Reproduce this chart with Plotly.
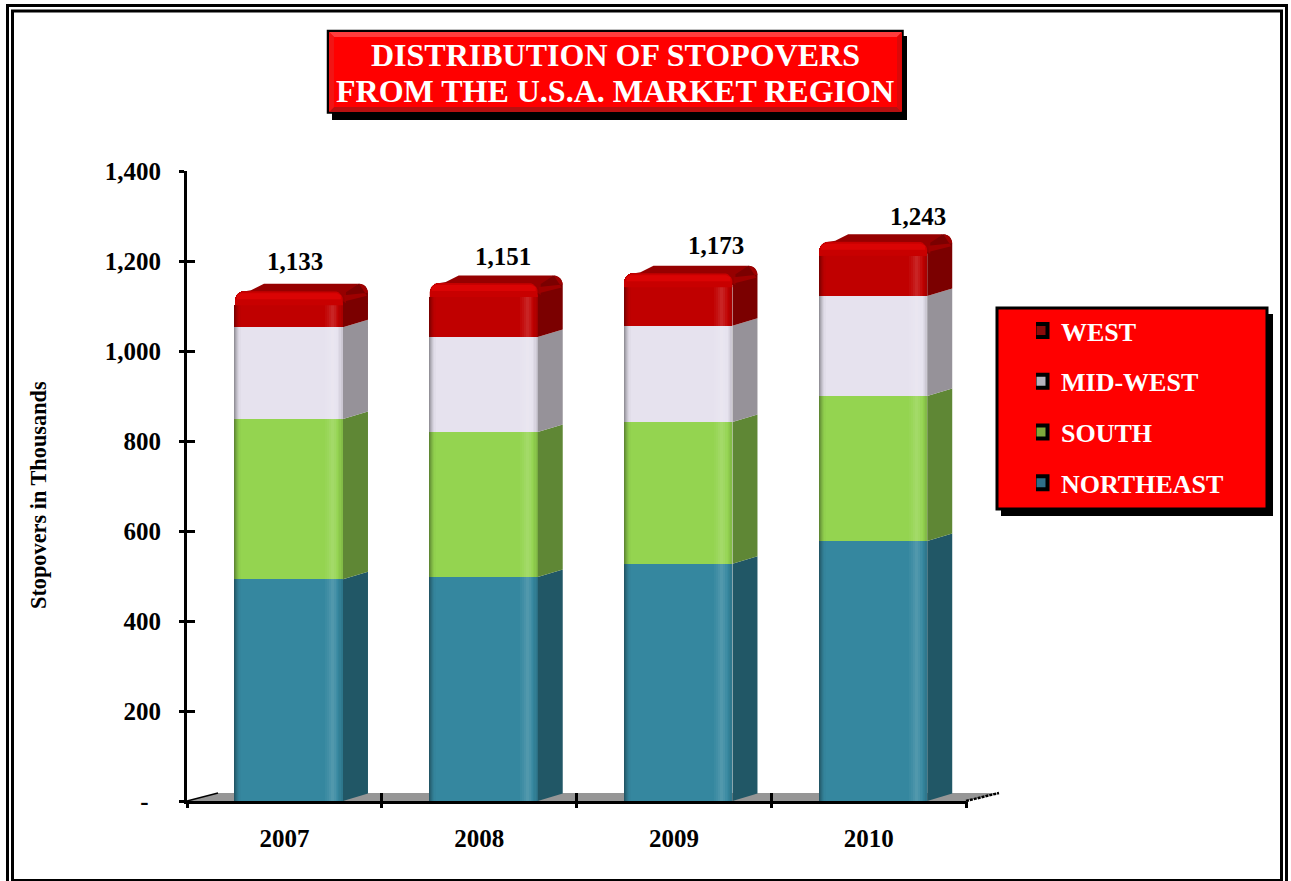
import math
import plotly.graph_objects as go

categories = ["2007", "2008", "2009", "2010"]
northeast = [493, 498, 527, 578]
south = [356, 322, 315, 322]
midwest = [204, 211, 214, 222]
west = [80, 120, 117, 121]
totals = [1133, 1151, 1173, 1243]
total_labels = ["1,133", "1,151", "1,173", "1,243"]
y_ticks = [0, 200, 400, 600, 800, 1000, 1200, 1400]
y_labels = ["-\u00a0\u00a0", "200", "400", "600", "800", "1,000", "1,200", "1,400"]
label_shift = [(6, 30), (19, 27), (38, 28), (45, 25)]

FONT = "Liberation Serif"
W, H = 1291, 881
L, R, T, B = 187, 966, 171, 801
PX = (R - L) / 4
PY = (B - T) / 1400
BAR_L = -49.4 / PX
BAR_W = 108 / PX
DX, DY = 25 / PX, 7.5 / PY

series = [
    ("NORTHEAST", northeast, "#35879f", "#215766", "#2f6f88"),
    ("SOUTH", south, "#94d450", "#5f8735", "#7fa83c"),
    ("MID-WEST", midwest, "#e6e2ee", "#969299", "#b5b2bd"),
    ("WEST", west, "#c00000", "#7b0000", "#8c0a0a"),
]


def hex_rgb(c):
    return tuple(int(c[i:i + 2], 16) for i in (1, 3, 5))


def shade(c, f):
    r = hex_rgb(c)
    if f < 0:
        r = [v * (1 + f) for v in r]
    else:
        r = [v + (255 - v) * f for v in r]
    return "rgb(%d,%d,%d)" % tuple(round(v) for v in r)


# (px from left of front face, px width, shade)
strips = [(0, 1, -.36), (1, 1, -.27), (2, 1, -.19), (3, 1, -.12), (4, 1, -.06), (5, 1, -.02),
          (90, 2, .03), (92, 2, .06), (94, 2, .1), (96, 3, .14), (99, 2, .1), (101, 2, .05),
          (103, 1, .02), (104, 1, -.03), (105, 1, -.06), (106, 2, -.11)]

px = lambda x: (x - L) / (R - L)
py = lambda y: (B - y) / (B - T)


def rect(x0, y0, x1, y1, fill, line="rgba(0,0,0,0)", w=0, layer="below"):
    return dict(type="rect", xref="paper", yref="paper", x0=px(x0), x1=px(x1), y0=py(y0), y1=py(y1),
                fillcolor=fill, line=dict(color=line, width=w), layer=layer)


def poly(points, fill):
    p = "M" + " L".join("%.5f,%.5f" % (px(a), py(b)) for a, b in points) + " Z"
    return dict(type="path", xref="paper", yref="paper", path=p, fillcolor=fill,
                line=dict(width=0), layer="below")


fig = go.Figure()
xs = list(range(len(categories)))

# front faces
base = [0] * 4
bases = {}
for name, vals, col, side, sw in series:
    bases[name] = list(base)
    tr = dict(x=xs, y=vals, base=base, width=BAR_W, offset=BAR_L, name=name,
              marker=dict(color=col, line=dict(width=0)), showlegend=False, hoverinfo="skip")
    if name == "WEST":
        tr["marker"]["cornerradius"] = 9
    fig.add_trace(go.Bar(**tr))
    base = [a + b for a, b in zip(base, vals)]

# shading strips on the front faces
for name, vals, col, side, sw in series:
    h = [v - (14 / PY if name == "WEST" else 0) for v in vals]
    for start, width, f in strips:
        fig.add_trace(go.Bar(x=xs, y=h, base=bases[name], width=width / PX, offset=BAR_L + start / PX,
                             marker=dict(color=shade(col, f), line=dict(width=0)),
                             showlegend=False, hoverinfo="skip"))


def arc(cx, cy, r, a0, a1, n=6):
    """Points of a pixel-radius corner, in data units."""
    return [(cx + r / PX * math.cos(math.radians(a0 + (a1 - a0) * k / n)),
             cy + r / PY * math.sin(math.radians(a0 + (a1 - a0) * k / n))) for k in range(n + 1)]


def add_poly(pts_list, color):
    xx, yy = [], []
    for pts in pts_list:
        xx += [p[0] for p in pts] + [pts[0][0], None]
        yy += [p[1] for p in pts] + [pts[0][1], None]
    fig.add_trace(go.Scatter(x=xx, y=yy, mode="lines", fill="toself", fillcolor=color,
                             line=dict(width=0, color=color), cliponaxis=False,
                             showlegend=False, hoverinfo="skip"))


# side faces
for name, vals, col, side, sw in series:
    polys = []
    for i in xs:
        xr = i + BAR_L + BAR_W
        b0 = bases[name][i]
        t0 = b0 + vals[i]
        if name == "WEST":
            r = 9
            polys.append([(xr, b0), (xr + DX, b0 + DY)] +
                         arc(xr + DX - r / PX, t0 + DY - r / PY, r, 0, 90) + [(xr - 10 / PX, t0), (xr, t0 - 12 / PY)])
        else:
            polys.append([(xr, b0), (xr + DX, b0 + DY), (xr + DX, t0 + DY), (xr, t0)])
    add_poly(polys, side)

# roof and lit upper edge of the top segment
roofs, side_lit, bands, bands2 = [], [], [], []
for i in xs:
    xl = i + BAR_L
    xr = xl + BAR_W
    t = totals[i]
    r = 9
    roofs.append([(xl + 4 / PX, t - 1 / PY), (xl + 16 / PX, t + 1 / PY), (xl + DX + 4 / PX, t + DY)] +
                 [(xr + DX - 9 / PX, t + DY), (xr + 3 / PX, t - 1 / PY), (xr + 3 / PX, t - 12 / PY), (xr - 10 / PX, t - 3 / PY)])
    side_lit.append([(xr + 1 / PX, t - 4 / PY)] + arc(xr + DX - r / PX, t + DY - r / PY, r, 0, 90) +
                    [(xr + DX - 1 / PX, t + DY - 12 / PY), (xr + 2 / PX, t - 10 / PY)])
    top = arc(xl + r / PX, t - r / PY, r, 180, 90) + arc(xr - r / PX, t - r / PY, r, 90, 0)
    bands.append(top + [(xr, t - 14 / PY), (xl, t - 14 / PY)])
    bands2.append([(xl + 2 / PX, t - 4 / PY), (xl + 6 / PX, t - 2 / PY), (xr - 6 / PX, t - 2 / PY),
                   (xr - 2 / PX, t - 4 / PY), (xr - 2 / PX, t - 8 / PY), (xl + 2 / PX, t - 8 / PY)])
add_poly(roofs, "#960000")
add_poly(side_lit, "#9e0000")
add_poly(bands, "#c80000")
add_poly(bands2, "#da0404")

# overlay axes carrying the inward tick marks and the boundary ticks
fig.add_trace(go.Scatter(x=[None], y=[None], xaxis="x2", showlegend=False, hoverinfo="skip"))
fig.add_trace(go.Scatter(x=[None], y=[None], xaxis="x3", showlegend=False, hoverinfo="skip"))
fig.add_trace(go.Scatter(x=[None], y=[None], yaxis="y2", showlegend=False, hoverinfo="skip"))

# legend entries
for name, vals, col, side, sw in reversed(series):
    fig.add_trace(go.Scatter(x=[None], y=[None], mode="markers", name=name, legendgroup=name,
                             marker=dict(symbol="square", size=13, color=sw,
                                         line=dict(color="black", width=4))))

shapes = [
    poly([(L, B), (L + 31, B - 8), (R + 33, B - 8), (R, B)], "#969696"),
    dict(type="line", xref="paper", yref="paper", x0=px(L), y0=py(B), x1=px(L + 31), y1=py(B - 8),
         line=dict(color="black", width=1.5), layer="above"),
    dict(type="line", xref="paper", yref="paper", x0=px(R), y0=py(B), x1=px(R + 33), y1=py(B - 8),
         line=dict(color="black", width=2.5, dash="3px,1px"), layer="above"),
    # page frame
    rect(7.5, 5.5, 1286.5, 895, "rgba(0,0,0,0)", "black", 3),
    rect(12.5, 11, 1281.5, 880.5, "rgba(0,0,0,0)", "black", 3),
    # title box
    rect(332, 36, 907, 120, "black"),
    rect(328, 31, 902.5, 112.5, "#ff0000", "black", 2.5),
    poly([(329, 32), (902, 32), (897, 37), (334, 37)], "#ff3c3c"),
    poly([(329, 112), (902, 112), (897, 107), (334, 107)], "#b81010"),
    poly([(329, 32), (334, 37), (334, 107), (329, 112)], "#f21414"),
    poly([(902, 32), (897, 37), (897, 107), (902, 112)], "#dd0808"),
    # legend box
    rect(1001, 314, 1273, 516, "black"),
    rect(997, 308, 1267, 509, "#ff0000", "black", 3),
]

anns = [
    dict(text="DISTRIBUTION OF STOPOVERS", x=px(615), y=py(55), xref="paper", yref="paper",
         showarrow=False, xanchor="center", yanchor="middle",
         font=dict(family=FONT, size=32, color="white", weight="bold")),
    dict(text="FROM THE U.S.A. MARKET REGION", x=px(615), y=py(91), xref="paper", yref="paper",
         showarrow=False, xanchor="center", yanchor="middle",
         font=dict(family=FONT, size=32, color="white", weight="bold")),
    dict(text="Stopovers in Thousands", x=px(39), y=py(495), xref="paper", yref="paper", textangle=-90,
         showarrow=False, xanchor="center", yanchor="middle",
         font=dict(family=FONT, size=22.3, color="black", weight="bold")),
]
for i, t in enumerate(totals):
    sx, sy = label_shift[i]
    anns.append(dict(text=total_labels[i], x=i + BAR_L + BAR_W / 2, y=t, xref="x", yref="y",
                     showarrow=False, xanchor="center", yanchor="middle", xshift=sx, yshift=sy,
                     font=dict(family=FONT, size=25, color="black", weight="bold")))

bounds = [-0.5, 0.5, 1.5, 2.5, 3.5]
tickfont = dict(family=FONT, size=25, color="black", weight="bold")
fig.update_layout(
    width=W, height=H, autosize=False,
    margin=dict(l=L, r=W - R, t=T, b=H - B, pad=0, autoexpand=False),
    paper_bgcolor="white", plot_bgcolor="rgba(0,0,0,0)",
    barmode="overlay", bargap=0, shapes=shapes, annotations=anns,
    legend=dict(x=px(1036), y=py(307), xanchor="left", yanchor="top", bgcolor="rgba(0,0,0,0)",
                traceorder="grouped", tracegroupgap=14, indentation=-15, itemsizing="trace",
                font=dict(family=FONT, size=26, color="white", weight="bold")),
    xaxis=dict(range=[-0.5, 3.5], tickmode="array", tickvals=xs, ticktext=categories, ticks="outside",
               ticklen=13, tickcolor="rgba(0,0,0,0)", tickfont=tickfont, showgrid=False, zeroline=False,
               showline=True, linecolor="black", linewidth=3),
    xaxis2=dict(range=[-0.5, 3.5], overlaying="x", anchor="y", tickmode="array", tickvals=bounds,
                ticks="outside", ticklen=6, tickwidth=2.5, tickcolor="black", showticklabels=False,
                showgrid=False, zeroline=False),
    xaxis3=dict(range=[-0.5, 3.5], overlaying="x", anchor="y", tickmode="array", tickvals=bounds,
                ticks="inside", ticklen=8, tickwidth=2.5, tickcolor="black", showticklabels=False,
                showgrid=False, zeroline=False),
    yaxis=dict(range=[0, 1400], tickmode="array", tickvals=y_ticks, ticktext=y_labels, ticks="outside",
               ticklen=5, tickwidth=2.5, tickcolor="black", tickfont=tickfont, showgrid=False, zeroline=False,
               showline=True, linecolor="black", linewidth=3, ticklabelstandoff=13),
    yaxis2=dict(range=[0, 1400], overlaying="y", anchor="x", tickmode="array", tickvals=y_ticks,
                ticks="inside", ticklen=8, tickwidth=2.5, tickcolor="black", showticklabels=False,
                showgrid=False, zeroline=False, side="left"),
)
fig.write_html("out.html", config=dict(displayModeBar=False),
               post_script="document.body.style.margin='0';document.body.style.overflow='hidden';")
